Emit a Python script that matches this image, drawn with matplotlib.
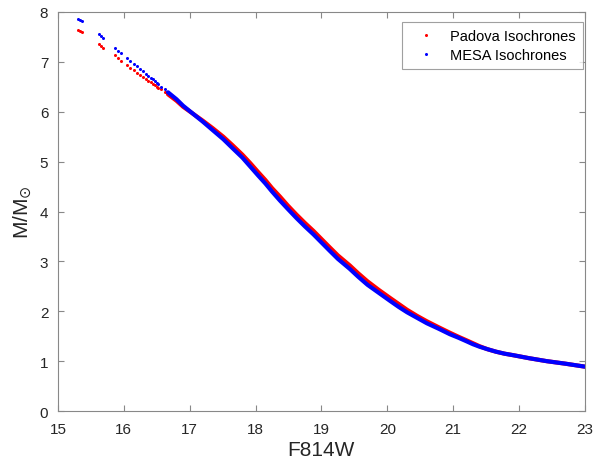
import matplotlib
matplotlib.use("Agg")
from matplotlib import pyplot as plt

plt.rcParams['font.family'] = ['Liberation Sans', 'DejaVu Sans']

# Padova isochrones (red): sparse bright points, then the dense track
padova_dots_mag = [15.31, 15.33, 15.36, 15.62, 15.66, 15.69, 15.87, 15.91, 15.95,
                   16.05, 16.10, 16.15, 16.20, 16.25, 16.29, 16.33, 16.37, 16.41,
                   16.44, 16.47, 16.50, 16.52, 16.57, 16.63]
padova_dots_mass = [7.64, 7.62, 7.60, 7.35, 7.32, 7.28, 7.13, 7.08, 7.02,
                    6.93, 6.88, 6.83, 6.78, 6.74, 6.70, 6.66, 6.62, 6.59,
                    6.56, 6.53, 6.50, 6.48, 6.45, 6.40]
padova_track_mag = [16.67, 16.80, 16.90, 17.05, 17.20, 17.35, 17.51, 17.65, 17.80,
                    17.92, 18.04, 18.15, 18.25, 18.37, 18.49, 18.62, 18.75, 18.88,
                    19.00, 19.12, 19.25, 19.43, 19.56, 19.70, 19.87, 20.04, 20.17,
                    20.30, 20.45, 20.60, 20.78, 20.95, 21.08, 21.20, 21.30, 21.40,
                    21.52, 21.65, 21.78, 21.91, 22.15, 22.42, 22.70, 23.00]
padova_track_mass = [6.35, 6.22, 6.10, 5.96, 5.82, 5.67, 5.50, 5.33, 5.14,
                     4.97, 4.79, 4.63, 4.47, 4.30, 4.12, 3.94, 3.77, 3.61,
                     3.45, 3.29, 3.12, 2.92, 2.76, 2.60, 2.43, 2.27, 2.15,
                     2.03, 1.91, 1.80, 1.68, 1.57, 1.49, 1.42, 1.36, 1.30,
                     1.24, 1.19, 1.15, 1.12, 1.06, 1.00, 0.95, 0.89]

# MESA isochrones (blue)
mesa_dots_mag = [15.31, 15.33, 15.36, 15.62, 15.66, 15.69, 15.87, 15.91, 15.95,
                 16.05, 16.10, 16.15, 16.20, 16.25, 16.29, 16.33, 16.37, 16.41,
                 16.44, 16.47, 16.50, 16.52, 16.57, 16.63]
mesa_dots_mass = [7.86, 7.84, 7.81, 7.55, 7.51, 7.47, 7.27, 7.22, 7.17,
                  7.07, 7.02, 6.96, 6.91, 6.85, 6.81, 6.76, 6.72, 6.68,
                  6.65, 6.61, 6.58, 6.56, 6.50, 6.45]
mesa_track_mag = [16.67, 16.80, 16.90, 17.05, 17.20, 17.35, 17.51, 17.65, 17.80,
                  17.92, 18.04, 18.15, 18.25, 18.37, 18.49, 18.62, 18.75, 18.88,
                  19.00, 19.12, 19.25, 19.43, 19.56, 19.70, 19.87, 20.04, 20.17,
                  20.30, 20.45, 20.60, 20.78, 20.95, 21.08, 21.20, 21.30, 21.40,
                  21.52, 21.65, 21.78, 21.91, 22.15, 22.42, 22.70, 23.00]
mesa_track_mass = [6.39, 6.25, 6.12, 5.96, 5.80, 5.63, 5.45, 5.27, 5.08,
                   4.90, 4.72, 4.56, 4.40, 4.22, 4.05, 3.87, 3.70, 3.54,
                   3.38, 3.22, 3.05, 2.85, 2.69, 2.53, 2.37, 2.21, 2.09,
                   1.98, 1.87, 1.76, 1.65, 1.54, 1.47, 1.40, 1.34, 1.29,
                   1.24, 1.19, 1.15, 1.12, 1.06, 1.00, 0.95, 0.89]

fig = plt.figure(figsize=(5.96, 4.64), dpi=100)
ax = fig.add_axes([0.0973, 0.112, 0.884, 0.86])

ax.plot(padova_dots_mag, padova_dots_mass, 'o', color='#ff0000', markersize=2.2,
        markeredgewidth=0, label='Padova Isochrones')
ax.plot(padova_track_mag, padova_track_mass, '-', color='#ff0000', lw=3.0,
        solid_capstyle='round', solid_joinstyle='round')
ax.plot(mesa_dots_mag, mesa_dots_mass, 'o', color='#0000ff', markersize=2.2,
        markeredgewidth=0, label='MESA Isochrones')
ax.plot(mesa_track_mag, mesa_track_mass, '-', color='#0000ff', lw=3.0,
        solid_capstyle='round', solid_joinstyle='round')

ax.set_xlim(15, 23)
ax.set_ylim(0, 8)
ax.set_xticks(range(15, 24))
ax.set_yticks(range(0, 9))
ax.tick_params(direction='in', length=4, width=0.8, colors='#888888',
               labelcolor='#262626', labelsize=11, top=True, right=True)
ax.tick_params(axis='x', pad=8)
ax.tick_params(axis='y', pad=7)
for s in ax.spines.values():
    s.set_color('#888888')
    s.set_linewidth(0.8)

ax.set_xlabel('F814W', fontsize=15, color='#262626', labelpad=3)
ax.set_ylabel(r'M/M$_{\odot}$', fontsize=15, color='#262626', labelpad=4)

leg = ax.legend(loc='upper right', fontsize=10.5, frameon=True, fancybox=False,
                edgecolor='#888888', markerscale=1.0, handlelength=2.2,
                handletextpad=0.6, borderpad=0.5, labelspacing=0.3,
                borderaxespad=0, bbox_to_anchor=(0.997, 0.975))
leg.get_frame().set_linewidth(0.8)

fig.savefig('out.png', dpi=100)
